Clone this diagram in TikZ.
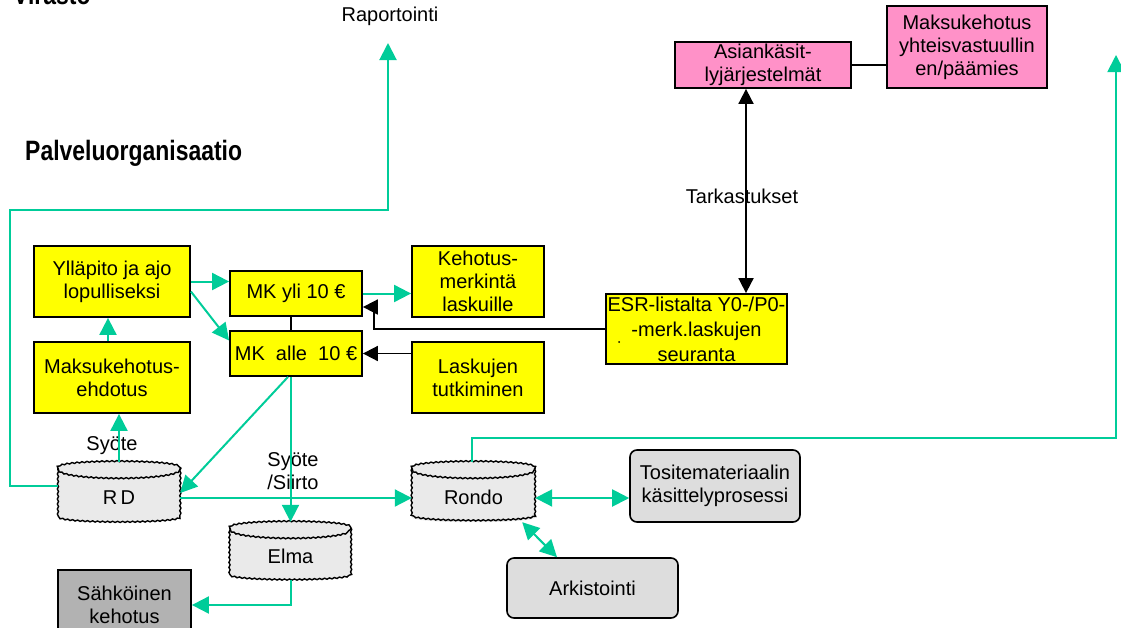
\documentclass[tikz,border=0pt]{standalone}
\usepackage{fontspec}
\setmainfont{Liberation Sans}
\usetikzlibrary{arrows.meta,decorations.pathmorphing,backgrounds}
\definecolor{tgreen}{RGB}{0,204,153}
\definecolor{tpink}{RGB}{255,145,200}
\definecolor{tyellow}{RGB}{255,255,0}
\definecolor{drumgray}{RGB}{234,234,234}
\definecolor{procgray}{RGB}{221,221,221}
\definecolor{darkgraybox}{RGB}{178,178,178}
\tikzset{
  txt/.style={font=\fontsize{20}{23}\selectfont},
  ybox/.style={txt, draw=black, line width=1.8pt, fill=tyellow, align=center, inner sep=0pt},
  pbox/.style={txt, draw=black, line width=1.8pt, fill=tpink, align=center, inner sep=0pt},
  gbox/.style={txt, draw=black, line width=1.6pt, fill=procgray, align=center, inner sep=0pt, rounded corners=7pt},
  drum/.style={txt, inner sep=0pt, text height=24pt, text depth=0pt},
  drumline/.style={draw=black, line width=1.4pt, decorate, decoration={snake, amplitude=0.6pt, segment length=5pt}},
  garrow/.style={draw=tgreen, line width=2pt, -{Triangle[length=17pt,width=17pt]}},
  gdouble/.style={draw=tgreen, line width=2pt, {Triangle[length=17pt,width=17pt]}-{Triangle[length=17pt,width=17pt]}},
  barrow/.style={draw=black, line width=1.8pt, -{Triangle[length=15pt,width=15pt]}},
  bdouble/.style={draw=black, line width=1.8pt, {Triangle[length=15pt,width=15pt]}-{Triangle[length=15pt,width=15pt]}},
  bline/.style={draw=black, line width=1.8pt},
  title/.style={font=\fontsize{28}{32}\selectfont\bfseries, inner sep=0pt}
}
\newcommand{\drumdraw}[1]{%
  \fill[drumgray] ([yshift=-6pt]#1.north west) .. controls ([yshift=2pt]#1.north west) and ([yshift=2pt]#1.north east) .. ([yshift=-6pt]#1.north east) -- ([yshift=5pt]#1.south east) .. controls ([yshift=-1.7pt]#1.south east) and ([yshift=-1.7pt]#1.south west) .. ([yshift=5pt]#1.south west) -- cycle;
  \path[drumline] ([yshift=-6pt]#1.north west) .. controls ([yshift=2pt]#1.north west) and ([yshift=2pt]#1.north east) .. ([yshift=-6pt]#1.north east) -- ([yshift=5pt]#1.south east) .. controls ([yshift=-1.7pt]#1.south east) and ([yshift=-1.7pt]#1.south west) .. ([yshift=5pt]#1.south west) -- cycle;
  \path[drumline] ([yshift=-6pt]#1.north west) .. controls ([yshift=-18pt]#1.north west) and ([yshift=-18pt]#1.north east) .. ([yshift=-6pt]#1.north east);
}
\begin{document}
\begin{tikzpicture}[x=1pt,y=-1pt]
\useasboundingbox (0,0) rectangle (1121,627);

% titles
\node[title, anchor=base west] (virasto) at (13,4) {\scalebox{0.82}[1]{Virasto}};
\node[title, anchor=base west] (palvelu) at (25,160) {\scalebox{0.82}[1]{Palveluorganisaatio}};
\node[txt] (rap) at (390,16) {Raportointi};

% yellow boxes
\node[ybox, minimum width=156pt, minimum height=71pt] (yllapito) at (112,281.5) {Ylläpito ja ajo\\lopulliseksi};
\node[ybox, minimum width=132pt, minimum height=45pt] (mkyli) at (296,293.5) {MK yli 10 €};
\node[ybox, minimum width=132pt, minimum height=45pt] (mkalle) at (296,353.5) {MK~ alle~ 10 €};
\node[ybox, minimum width=156pt, minimum height=71pt] (ehdotus) at (112,377.5) {Maksukehotus-\\ehdotus};
\node[ybox, minimum width=132pt, minimum height=71pt] (kehotus) at (478,281.5) {Kehotus-\\merkintä\\laskuille};
\node[ybox, minimum width=132pt, minimum height=71pt] (laskujen) at (478,377.5) {Laskujen\\tutkiminen};
\node[ybox, minimum width=181pt, minimum height=70pt, font=\fontsize{20}{25}\selectfont] (esr) at (696.5,329) {ESR-listalta Y0-/P0-\\-merk.laskujen\\seuranta};
\fill (619,342) circle (1pt);

% pink boxes
\node[pbox, minimum width=176pt, minimum height=46pt] (asian) at (763,65) {Asiankäsit-\\lyjärjestelmät};
\node[pbox, minimum width=160pt, minimum height=82pt] (makpaa) at (967,47) {Maksukehotus\\yhteisvastuullin\\en/päämies};

% grey process boxes
\node[gbox, minimum width=170pt, minimum height=72pt] (tosite) at (715,486) {Tositemateriaalin\\käsittelyprosessi};
\node[gbox, minimum width=171pt, minimum height=60pt] (arkisto) at (592.5,588) {Arkistointi};
\node[txt, draw=black, line width=1.8pt, fill=darkgraybox, align=center, inner sep=0pt, minimum width=133pt, minimum height=70pt] (sahko) at (124.5,605) {Sähköinen\\kehotus};

% drums
\node[drum, minimum width=122pt, minimum height=60pt] (rd) at (119,492) {R\,D};
\node[drum, minimum width=121pt, minimum height=58pt] (elma) at (290.5,551) {Elma};
\node[drum, minimum width=123pt, minimum height=60pt] (rondo) at (473.5,492) {Rondo};
\begin{pgfonlayer}{background}
\drumdraw{rd}
\drumdraw{elma}
\drumdraw{rondo}
\end{pgfonlayer}

% labels
\node[txt] (tark) at (742,196) {Tarkastukset};
\node[txt] (syote1) at (112,446) {Syöte};
\node[txt, align=left] (syote2) at (293,471) {Syöte\\/Siirto};

% green connectors
\draw[garrow] (yllapito.east) -- (yllapito.east -| mkyli.west);
\draw[garrow] ([yshift=-10pt]yllapito.east) -- ([yshift=13pt]mkalle.west);
\draw[garrow] (mkyli.east) -- (mkyli.east -| kehotus.west);
\draw[garrow] ([xshift=-4pt]ehdotus.north) -- ([xshift=-4pt]yllapito.south);
\draw[garrow] (rd.north) -- (rd.north |- ehdotus.south);
\draw[garrow] ([xshift=-8pt]mkalle.south) -- ([yshift=-1pt]rd.east);
\draw[garrow] (elma.north |- mkalle.south) -- (elma.north);
\draw[garrow] ([yshift=-6pt]rd.east) -- ([yshift=-6pt]rondo.west);
\draw[garrow] (elma.south) |- (sahko.east);
\draw[gdouble] ([yshift=-6pt]rondo.east) -- ([yshift=-6pt]rondo.east -| tosite.west);
\draw[gdouble] ([xshift=-13pt]rondo.south east) -- ([xshift=-35.5pt]arkisto.north);

\coordinate (rapend) at (388,43);
\coordinate (rcorner) at (10,210);
\draw[garrow] ([yshift=6pt]rd.west) -| (rcorner) -| (rapend);

\coordinate (rightend) at (1116,55);
\coordinate (rndtop) at (472,438);
\draw[garrow] ([xshift=-1.5pt]rondo.north) -- (rndtop) -| (rightend);

% black connectors
\draw[bline] ([xshift=-5pt]mkyli.south) -- ([xshift=-5pt]mkalle.north);
\coordinate (mkyliin) at ([yshift=-13.5pt]mkyli.east);
\draw[barrow] (esr.west) -| ([xshift=11pt]mkyliin) -- (mkyliin);
\draw[barrow] (laskujen.west |- mkalle.east) -- (mkalle.east);
\draw[bdouble] ([xshift=-17pt]asian.south) -- ([xshift=49.5pt]esr.north);
\draw[bline] (asian.east) -- (asian.east -| makpaa.west);
\end{tikzpicture}
\end{document}
